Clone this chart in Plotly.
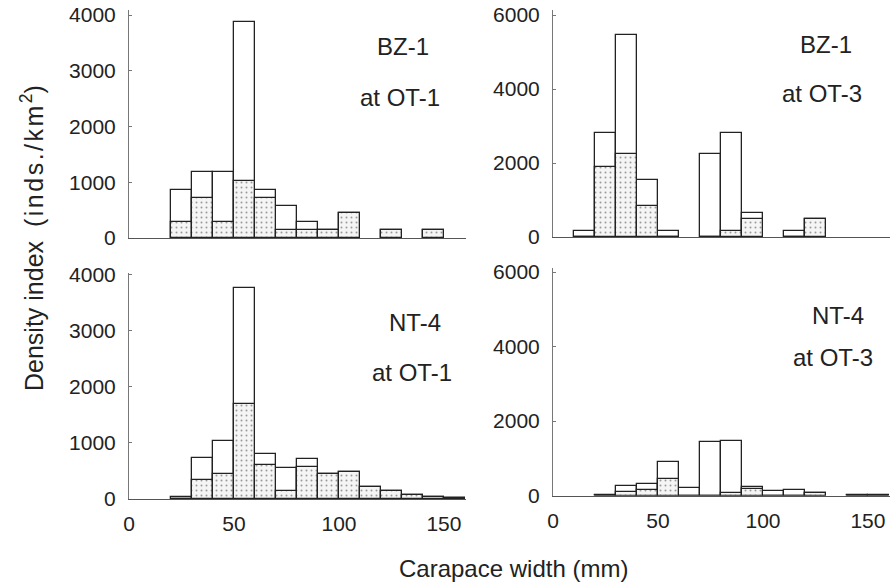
import plotly.graph_objects as go

W, H = 891, 587

# ---- data (bin left edges in mm, density index values) ----
tl_bins = [20, 30, 40, 50, 60, 70, 80, 90, 100, 120, 140]
tl_total = [870, 1180, 1180, 3870, 870, 570, 280, 140, 450, 140, 140]
tl_stip = [280, 720, 280, 1030, 720, 140, 140, 140, 450, 140, 140]

tr_bins = [10, 20, 30, 40, 50, 70, 80, 90, 110, 120]
tr_total = [160, 2800, 5450, 1550, 160, 2250, 2800, 650, 150, 480]
tr_stip = [0, 1900, 2250, 850, 0, 0, 160, 500, 0, 480]

bl_bins = [20, 30, 40, 50, 60, 70, 80, 90, 100, 110, 120, 130, 140, 150]
bl_total = [40, 740, 1030, 3760, 810, 560, 710, 450, 480, 210, 150, 80, 40, 15]
bl_stip = [0, 340, 450, 1700, 610, 140, 580, 450, 480, 210, 150, 80, 40, 15]

br_bins = [20, 30, 40, 50, 60, 70, 80, 90, 100, 110, 120, 140, 150]
br_total = [25, 260, 310, 900, 200, 1440, 1470, 230, 110, 150, 70, 25, 25]
br_stip = [0, 90, 160, 440, 0, 0, 60, 170, 0, 0, 70, 0, 0]

panel_labels = [("BZ-1", "at OT-1"), ("BZ-1", "at OT-3"), ("NT-4", "at OT-1"), ("NT-4", "at OT-3")]
x_ticks = [0, 50, 100, 150]
y_ticks_left = [0, 1000, 2000, 3000, 4000]
y_ticks_right = [0, 2000, 4000, 6000]
x_title = "Carapace width (mm)"
y_title = ("Density index\u00a0 <span style='letter-spacing:2.5px'>(inds./km</span>"
           "<sup>2</sup>)")

FONT = "Liberation Sans, Arial, sans-serif"

def px_x(p):
    return p / W

def px_y(p):
    return 1 - p / H

# panel geometry in pixels
panels = [
    dict(data=(tl_bins, tl_total, tl_stip), x0=129, x1=466, yb=238, yt=10, ymax=4090, yt_vals=y_ticks_left, showx=False),
    dict(data=(tr_bins, tr_total, tr_stip), x0=553, x1=890, yb=237, yt=10, ymax=6135, yt_vals=y_ticks_right, showx=False),
    dict(data=(bl_bins, bl_total, bl_stip), x0=129, x1=466, yb=499, yt=273, ymax=4035, yt_vals=y_ticks_left, showx=True),
    dict(data=(br_bins, br_total, br_stip), x0=553, x1=890, yb=495.5, yt=268, ymax=6110, yt_vals=y_ticks_right, showx=True),
]

fig = go.Figure()
layout = {}
for i, p in enumerate(panels):
    n = i + 1
    xa = "x" if n == 1 else f"x{n}"
    ya = "y" if n == 1 else f"y{n}"
    bins, total, stip = p["data"]
    centers = [b + 5 for b in bins]
    fig.add_trace(go.Bar(
        x=centers, y=total, width=10, xaxis=xa, yaxis=ya,
        marker=dict(color="white", line=dict(color="#222", width=1.3)),
        showlegend=False, hoverinfo="skip"))
    fig.add_trace(go.Bar(
        x=centers, y=stip, width=10, xaxis=xa, yaxis=ya,
        marker=dict(color="#f4f4f4", line=dict(color="#222", width=1.3),
                    pattern=dict(shape=".", fgcolor="#9a9a9a", bgcolor="#f5f5f5", size=5, solidity=0.12)),
        showlegend=False, hoverinfo="skip"))
    xkey = "xaxis" if n == 1 else f"xaxis{n}"
    ykey = "yaxis" if n == 1 else f"yaxis{n}"
    layout[xkey] = dict(
        domain=[px_x(p["x0"]), px_x(p["x1"])], range=[0, 160.5], anchor=ya, automargin=False,
        showgrid=False, zeroline=False, showline=True, linecolor="#555", linewidth=1.3,
        tickvals=x_ticks if p["showx"] else [], ticks="",
        showticklabels=p["showx"], tickfont=dict(family=FONT, size=21, color="#222"),
        ticklabelstandoff=6,
    )
    layout[ykey] = dict(
        domain=[px_y(p["yb"]), px_y(p["yt"])], range=[0, p["ymax"]], anchor=xa, automargin=False,
        showgrid=False, zeroline=False, showline=True, linecolor="#777", linewidth=1,
        tickvals=p["yt_vals"], ticks="inside", ticklen=3, tickcolor="#777",
        tickfont=dict(family=FONT, size=21, color="#222"), ticklabelstandoff=8,
    )

annotations = []
label_pos = [((403, 47), (400, 97)), ((826, 44), (822, 93)), ((415, 322), (412, 372)), ((838, 315), (833, 357))]
for (l1, l2), ((x1, y1), (x2, y2)) in zip(panel_labels, label_pos):
    annotations.append(dict(text=l1, x=px_x(x1), y=px_y(y1), xref="paper", yref="paper",
                            showarrow=False, xanchor="center", yanchor="middle",
                            font=dict(family=FONT, size=24, color="#222")))
    annotations.append(dict(text=l2, x=px_x(x2), y=px_y(y2), xref="paper", yref="paper",
                            showarrow=False, xanchor="center", yanchor="middle",
                            font=dict(family=FONT, size=24, color="#222")))
annotations.append(dict(text=x_title, x=px_x(513), y=px_y(568), xref="paper", yref="paper",
                        showarrow=False, xanchor="center", yanchor="middle",
                        font=dict(family=FONT, size=24, color="#222")))
annotations.append(dict(text=y_title, x=px_x(32), y=px_y(393), xref="paper", yref="paper",
                        showarrow=False, xanchor="center", yanchor="bottom", textangle=-90,
                        font=dict(family=FONT, size=25, color="#222")))

fig.update_layout(
    template="none",
    width=W, height=H, margin=dict(l=0, r=0, t=0, b=0, autoexpand=False),
    paper_bgcolor="white", plot_bgcolor="white",
    barmode="overlay", bargap=0, annotations=annotations, **layout)

fig.write_html("out.html", config={"displayModeBar": False},
               post_script="document.body.style.margin='0px';document.body.style.overflow='hidden';")
